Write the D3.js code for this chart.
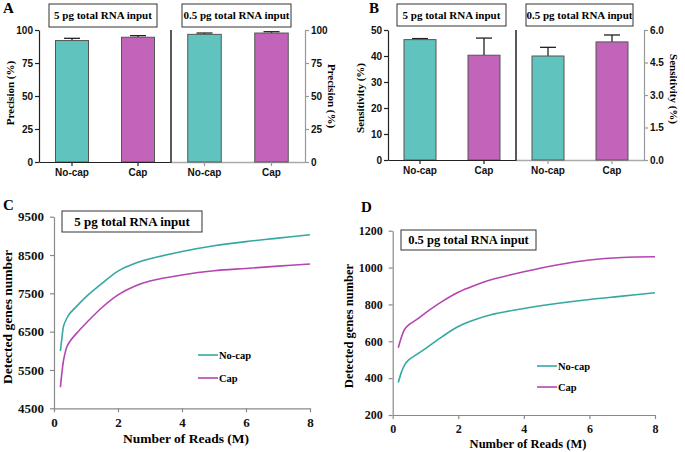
<!DOCTYPE html>
<html><head><meta charset="utf-8">
<script src="https://cdn.jsdelivr.net/npm/d3@7"></script>
<style>
body{margin:0;background:#fff;}
svg{display:block;}
</style></head>
<body>
<svg id="chart" width="685" height="452"></svg>
<script>
// ---------- DATA ----------
const barCategories = ["No-cap", "Cap"];
const groupTitles = ["5 pg total RNA input", "0.5 pg total RNA input"];
const precision5 = [92.0, 94.5];
const precision5Err = [1.7, 1.2];
const precision05 = [96.7, 97.7];
const precision05Err = [1.0, 1.0];
const sensitivity5 = [46.3, 40.3];
const sensitivity5Err = [0.4, 6.6];
const sensitivity05 = [4.8, 5.45];
const sensitivity05Err = [0.4, 0.32];
const precisionTicks = [0, 25, 50, 75, 100];
const sens5Ticks = [0, 10, 20, 30, 40, 50];
const sens05Ticks = [0, 1.5, 3.0, 4.5, 6.0];

const readsC = [0.2, 0.25, 0.3, 0.4, 0.5, 0.75, 1, 1.5, 2, 2.5, 3, 4, 5, 6, 7, 8];
const genesC_NoCap = [6000, 6350, 6650, 6850, 6980, 7200, 7410, 7760, 8080, 8270, 8400, 8590, 8740, 8850, 8940, 9030];
const genesC_Cap = [5050, 5450, 5760, 6100, 6250, 6500, 6720, 7130, 7460, 7680, 7820, 7980, 8090, 8150, 8210, 8265];
const ticksC_y = [4500, 5500, 6500, 7500, 8500, 9500];

const readsD = [0.17, 0.27, 0.36, 0.48, 0.75, 1, 1.5, 2, 2.5, 3, 4, 5, 6, 7, 8];
const genesD_NoCap = [376, 434, 471, 498, 530, 560, 624, 680, 717, 744, 778, 805, 827, 845, 863];
const genesD_Cap = [565, 624, 664, 688, 720, 754, 815, 866, 903, 934, 977, 1014, 1041, 1055, 1059];
const ticksD_y = [200, 400, 600, 800, 1000, 1200];
const ticksX = [0, 2, 4, 6, 8];
const seriesNames = ["No-cap", "Cap"];

// ---------- STYLE ----------
const barColors = {"No-cap": "#60c3be", "Cap": "#c264b9"};
const lineColors = {"No-cap": "#35a8a1", "Cap": "#b445b2"};
const serif = "Liberation Serif, Times New Roman, Times, DejaVu Serif, serif";
const sans = "Liberation Sans, Arial, sans-serif";
const svg = d3.select("#chart");

function titleBox(g, x0, x1, y0, y1, text, size) {
  g.append("rect").attr("x", x0).attr("y", y0).attr("width", x1 - x0).attr("height", y1 - y0)
    .attr("fill", "#fff").attr("stroke", "#333").attr("stroke-width", 1);
  g.append("text").attr("x", (x0 + x1) / 2).attr("y", (y0 + y1) / 2 + size * 0.35)
    .attr("text-anchor", "middle").style("font-family", serif).attr("font-weight", "bold")
    .attr("font-size", size).text(text);
}
function panelLetter(x, y, t) {
  svg.append("text").attr("x", x).attr("y", y).style("font-family", serif).attr("font-weight", "bold")
    .attr("font-size", 15).text(t);
}
function rotLabel(x, y, angle, text, size) {
  svg.append("text").attr("transform", `translate(${x},${y}) rotate(${angle})`)
    .attr("text-anchor", "middle").style("font-family", serif).attr("font-weight", "bold")
    .attr("font-size", size).text(text);
}
function styleAxis(g, color, fontFamily, size) {
  g.selectAll("path").attr("stroke", color).attr("stroke-width", 1.2);
  g.selectAll("line").attr("stroke", color).attr("stroke-width", 1.2);
  g.selectAll("text").style("font-family", fontFamily).attr("font-weight", "bold")
    .attr("font-size", size).attr("fill", "#111");
}

// ---------- BAR PANELS ----------
function barPanel(cfg) {
  const g = svg.append("g");
  const yL = d3.scaleLinear().domain(cfg.leftDomain).range([cfg.bottom, cfg.top]);
  const yR = d3.scaleLinear().domain(cfg.rightDomain).range([cfg.bottom, cfg.top]);
  const xL = d3.scaleBand().domain(barCategories).range([cfg.left, cfg.mid]).paddingInner(0.5).paddingOuter(0.25);
  const xR = d3.scaleBand().domain(barCategories).range([cfg.mid, cfg.right]).paddingInner(0.5).paddingOuter(0.25);

  g.append("line").attr("x1", cfg.mid).attr("x2", cfg.right).attr("y1", cfg.bottom + 0.5).attr("y2", cfg.bottom + 0.5)
    .attr("stroke", "#aaa").attr("stroke-width", 1.5);

  function drawBars(x, y, vals, errs) {
    barCategories.forEach((c, i) => {
      const cx = x(c) + x.bandwidth() / 2;
      g.append("line").attr("x1", cx).attr("x2", cx).attr("y1", y(vals[i])).attr("y2", y(vals[i] + errs[i]))
        .attr("stroke", "#222").attr("stroke-width", 1.3);
      g.append("line").attr("x1", cx - 8).attr("x2", cx + 8).attr("y1", y(vals[i] + errs[i])).attr("y2", y(vals[i] + errs[i]))
        .attr("stroke", "#222").attr("stroke-width", 1.3);
      g.append("rect").attr("x", x(c)).attr("y", y(vals[i])).attr("width", x.bandwidth())
        .attr("height", y(0) - y(vals[i])).attr("fill", barColors[c]).attr("stroke", "#555").attr("stroke-width", 1);
    });
  }
  drawBars(xL, yL, cfg.leftVals, cfg.leftErr);
  drawBars(xR, yR, cfg.rightVals, cfg.rightErr);

  const axL = g.append("g").attr("transform", `translate(${cfg.left},0)`)
    .call(d3.axisLeft(yL).tickValues(cfg.leftTicks).tickFormat(cfg.leftFmt).tickSize(4).tickSizeOuter(0).tickPadding(2));
  styleAxis(axL, "#222", sans, 10);
  const axR = g.append("g").attr("transform", `translate(${cfg.right},0)`)
    .call(d3.axisRight(yR).tickValues(cfg.rightTicks).tickFormat(cfg.rightFmt).tickSize(4).tickSizeOuter(0).tickPadding(2));
  styleAxis(axR, "#999", sans, 10);
  const axBL = g.append("g").attr("transform", `translate(0,${cfg.bottom})`)
    .call(d3.axisBottom(xL).tickSize(4).tickSizeOuter(0).tickPadding(3));
  styleAxis(axBL, "#222", sans, 10);
  const axBR = g.append("g").attr("transform", `translate(0,${cfg.bottom})`)
    .call(d3.axisBottom(xR).tickSize(4).tickSizeOuter(0).tickPadding(3));
  styleAxis(axBR, "#999", sans, 10);
  axBR.select("path").remove();
  g.append("line").attr("x1", cfg.mid).attr("x2", cfg.mid).attr("y1", cfg.top).attr("y2", cfg.bottom)
    .attr("stroke", "#222").attr("stroke-width", 1.5);

  titleBox(g, cfg.box1[0], cfg.box1[1], cfg.boxY[0], cfg.boxY[1], groupTitles[0], 11);
  titleBox(g, cfg.box2[0], cfg.box2[1], cfg.boxY[0], cfg.boxY[1], groupTitles[1], 11);
}

barPanel({
  left: 39, mid: 171, right: 305, top: 30, bottom: 162,
  leftDomain: [0, 100], rightDomain: [0, 100],
  leftVals: precision5, leftErr: precision5Err, rightVals: precision05, rightErr: precision05Err,
  leftTicks: precisionTicks, rightTicks: precisionTicks,
  leftFmt: d3.format("d"), rightFmt: d3.format("d"),
  box1: [49, 157], box2: [182, 291], boxY: [4, 27]
});
barPanel({
  left: 388, mid: 516, right: 644, top: 30, bottom: 160,
  leftDomain: [0, 50], rightDomain: [0, 6],
  leftVals: sensitivity5, leftErr: sensitivity5Err, rightVals: sensitivity05, rightErr: sensitivity05Err,
  leftTicks: sens5Ticks, rightTicks: sens05Ticks,
  leftFmt: d3.format("d"), rightFmt: d3.format(".1f"),
  box1: [397, 506], box2: [526, 633], boxY: [4, 26]
});
panelLetter(3, 13, "A");
panelLetter(369, 13, "B");
rotLabel(14, 93, -90, "Precision (%)", 11);
rotLabel(328, 96, 90, "Precision (%)", 11);
rotLabel(364, 98, -90, "Sensitivity (%)", 11);
rotLabel(670, 89, 90, "Sensitivity (%)", 11);

// ---------- LINE PANELS ----------
function linePanel(cfg) {
  const g = svg.append("g");
  const x = d3.scaleLinear().domain([0, 8]).range([cfg.left, cfg.right]);
  const y = d3.scaleLinear().domain(cfg.yDomain).range([cfg.bottom, cfg.top]);
  const ax = g.append("g").attr("transform", `translate(0,${cfg.bottom})`)
    .call(d3.axisBottom(x).tickValues(ticksX).tickFormat(d3.format("d")).tickSize(4).tickSizeOuter(0).tickPadding(5));
  styleAxis(ax, "#8a8a8a", serif, cfg.tickSize);
  const ay = g.append("g").attr("transform", `translate(${cfg.left},0)`)
    .call(d3.axisLeft(y).tickValues(cfg.yTicks).tickFormat(d3.format("d")).tickSize(4).tickSizeOuter(0).tickPadding(6));
  styleAxis(ay, "#8a8a8a", serif, cfg.tickSize);

  const line = d3.line().curve(d3.curveCatmullRom.alpha(0.5)).x(d => x(d[0])).y(d => y(d[1]));
  cfg.series.forEach(s => {
    g.append("path").datum(cfg.xs.map((v, i) => [v, s.vals[i]]))
      .attr("d", line).attr("fill", "none").attr("stroke", lineColors[s.name]).attr("stroke-width", 1.6);
  });
  seriesNames.forEach((n, i) => {
    const ly = cfg.legY[i];
    g.append("line").attr("x1", cfg.legX).attr("x2", cfg.legX + 20).attr("y1", ly).attr("y2", ly)
      .attr("stroke", lineColors[n]).attr("stroke-width", 1.6);
    g.append("text").attr("x", cfg.legX + 21).attr("y", ly + 4).style("font-family", serif)
      .attr("font-weight", "bold").attr("font-size", 10.5).text(n);
  });
  titleBox(g, cfg.box[0], cfg.box[1], cfg.box[2], cfg.box[3], cfg.title, cfg.titleSize);
  g.append("text").attr("x", cfg.xTitleX).attr("y", cfg.xTitleY).attr("text-anchor", "middle")
    .style("font-family", serif).attr("font-weight", "bold").attr("font-size", cfg.axisTitleSize).text("Number of Reads (M)");
  rotLabel(cfg.yTitleX, cfg.yTitleY, -90, "Detected genes number", cfg.axisTitleSize);
}

linePanel({
  left: 54, right: 310, top: 216.7, bottom: 408.3,
  yDomain: [4500, 9500], yTicks: ticksC_y, xs: readsC,
  series: [{name: "No-cap", vals: genesC_NoCap}, {name: "Cap", vals: genesC_Cap}],
  legX: 198, legY: [355, 378],
  box: [62, 202, 211, 232], title: groupTitles[0], titleSize: 13,
  tickSize: 13, axisTitleSize: 13.5, xTitleX: 186, xTitleY: 443, yTitleX: 12, yTitleY: 317
});
linePanel({
  left: 392.7, right: 655, top: 230.7, bottom: 415,
  yDomain: [200, 1200], yTicks: ticksD_y, xs: readsD,
  series: [{name: "No-cap", vals: genesD_NoCap}, {name: "Cap", vals: genesD_Cap}],
  legX: 537, legY: [366, 387],
  box: [401, 536, 230, 250], title: groupTitles[1], titleSize: 12.5,
  tickSize: 12, axisTitleSize: 12.5, xTitleX: 528, xTitleY: 448, yTitleX: 353, yTitleY: 326
});
panelLetter(3, 210, "C");
panelLetter(361, 212, "D");
</script>
</body></html>
